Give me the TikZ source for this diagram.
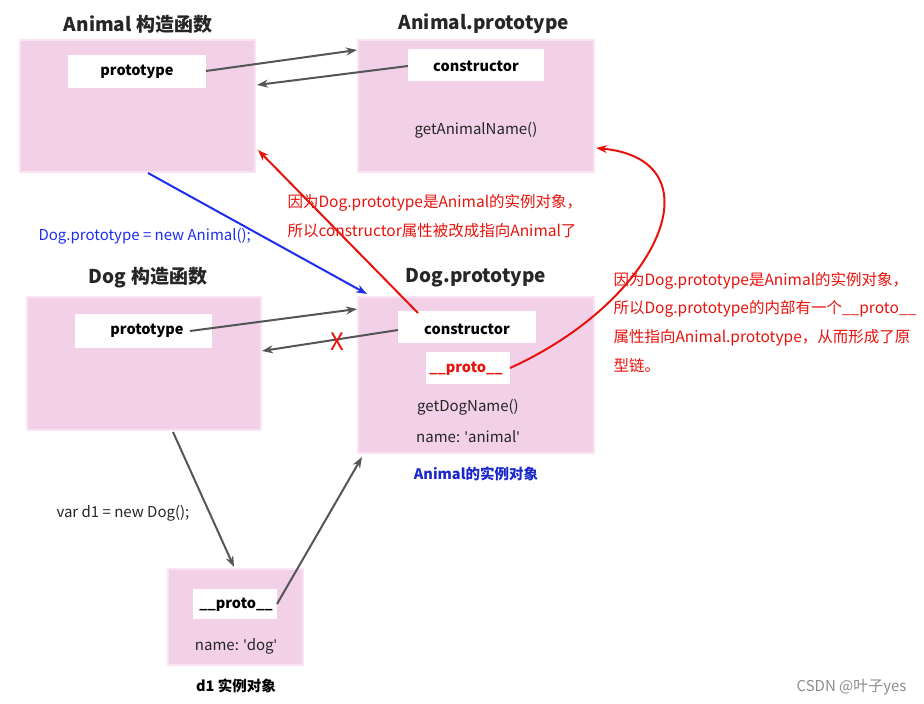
\documentclass[tikz,border=0pt]{standalone}
\usepackage{fontspec}
\setmainfont{Noto Sans CJK SC}
\newfontfamily\latq{Noto Sans}
\newcommand{\qq}{{\latq '}}
\usetikzlibrary{arrows.meta}
\definecolor{pk}{HTML}{F2D0E8}
\definecolor{pkb}{HTML}{F8E4F2}
\definecolor{ag}{HTML}{555555}
\definecolor{rd}{HTML}{E8120C}
\definecolor{bl}{HTML}{1E2EF0}
\tikzset{x=1pt,y=-1pt,
 box/.style={fill=pk,draw=pkb,line width=1.5pt},
 wbox/.style={fill=white,draw=none},
 ttl/.style={font=\fontsize{19}{22}\selectfont\bfseries,text=black!85},
 txt/.style={font=\fontsize{15}{17}\selectfont,text=black!85},
 btxt/.style={font=\fontsize{14.5}{16}\selectfont\bfseries,text=black},
 arr/.style={draw=ag,line width=2pt,-{Stealth[length=11pt,width=8pt]}},
 rtxt/.style={font=\fontsize{15.5}{17}\selectfont,text=rd,anchor=west}}
\begin{document}
\begin{tikzpicture}
\useasboundingbox (0,0) rectangle (924,704);
% Animal constructor
\fill[box] (20,40) rectangle (255,172);
\node[ttl] (t1) at (138,24) {Animal 构造函数};
\fill[wbox] (68,55) rectangle (206,88);
\node[btxt] (ap) at (137,72) {prototype};
% Animal.prototype
\fill[box] (358,40) rectangle (594,172);
\node[ttl] (t2) at (484,24) {Animal.prototype};
\fill[wbox] (408,49) rectangle (544,81);
\node[btxt] (apc) at (476,66) {constructor};
\node[txt] (gan) at (476,130) {getAnimalName()};
% Dog
\fill[box] (27,297) rectangle (261,430);
\node[ttl] (t3) at (148,278) {Dog 构造函数};
\fill[wbox] (75,314) rectangle (212,348);
\node[btxt] (dp) at (147,331) {prototype};
% Dog.prototype
\fill[box] (358,297) rectangle (594,453);
\node[ttl] (t4) at (476,278) {Dog.prototype};
\fill[wbox] (398,311) rectangle (536,343);
\node[btxt] (dpc) at (467,329) {constructor};
\fill[wbox] (426,352) rectangle (510,384);
\node[btxt,text=rd] (dpp) at (466,369) {\_\_proto\_\_};
\node[txt] (gdn) at (468,407) {getDogName()};
\node[txt] (na) at (468,437) {name: \qq animal\qq};
\node[btxt,text=bl!85!black] (ai) at (476,474) {Animal的实例对象};
% d1
\fill[box] (168,569) rectangle (303,665);
\fill[wbox] (193,589) rectangle (277,619);
\node[btxt] (d1p) at (236,605) {\_\_proto\_\_};
\node[txt] (nd) at (236,646) {name: \qq dog\qq};
\node[btxt] (d1t) at (236,686) {d1 实例对象};
% coordinates
\coordinate (a1s) at (206,71); \coordinate (a1e) at (357,50);
\coordinate (a2s) at (408,66); \coordinate (a2e) at (257,85);
\coordinate (b1s) at (148,173); \coordinate (b1e) at (367,294);
\coordinate (r1s) at (418,313); \coordinate (r1e) at (258,150);
\coordinate (a3s) at (190,331); \coordinate (a3e) at (357,309);
\coordinate (a4s) at (398,330); \coordinate (a4e) at (262,351);
\coordinate (r2s) at (510,368); \coordinate (r2e) at (596,148);
\coordinate (a5s) at (173,432); \coordinate (a5e) at (234,567);
\coordinate (a6s) at (277,604); \coordinate (a6e) at (362,457);
\draw[arr] (a1s) -- (a1e);
\draw[arr] (a2s) -- (a2e);
\draw[arr,draw=bl] (b1s) -- (b1e);
\draw[arr,draw=rd] (r1s) -- (r1e);
\draw[arr] (a3s) -- (a3e);
\draw[arr] (a4s) -- (a4e);
\draw[arr,draw=rd] (r2s) .. controls (660,300) and (720,160) .. (r2e);
\draw[arr] (a5s) -- (a5e);
\draw[arr] (a6s) -- (a6e);
\node[font=\fontsize{24}{26}\selectfont,text=rd] (x) at (337,342) {X};
\node[txt,text=bl,anchor=west] (bt) at (35,236) {Dog.prototype = new Animal();};
\node[rtxt] (r1a) at (284,203) {因为Dog.prototype是Animal的实例对象，};
\node[rtxt] (r1b) at (284,231) {所以constructor属性被改成指向Animal了};
\node[rtxt] (r2a) at (610,281) {因为Dog.prototype是Animal的实例对象，};
\node[rtxt] (r2b) at (610,309) {所以Dog.prototype的内部有一个\_\_proto\_\_};
\node[rtxt] (r2c) at (610,338) {属性指向Animal.prototype，从而形成了原};
\node[rtxt] (r2d) at (610,366) {型链。};
\node[txt,anchor=west] (vd) at (53,513) {var d1 = new Dog();};
\node[txt,text=black!45,anchor=east] (cs) at (910,687) {CSDN @叶子yes};
\end{tikzpicture}
\end{document}
